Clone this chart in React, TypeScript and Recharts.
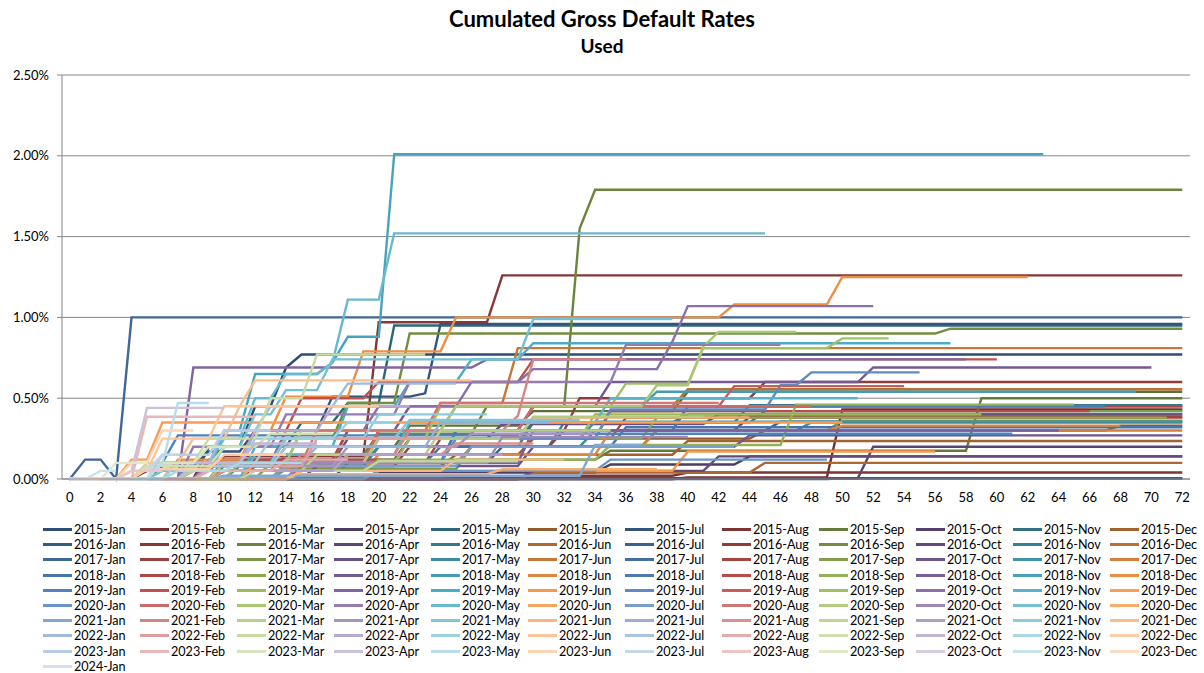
import React from "react";
import { LineChart, Line, XAxis, YAxis, CartesianGrid } from "recharts";

const YEARS = [2015, 2016, 2017, 2018, 2019, 2020, 2021, 2022, 2023, 2024];
const MONTHS = ["Jan", "Feb", "Mar", "Apr", "May", "Jun", "Jul", "Aug", "Sep", "Oct", "Nov", "Dec"];
const vintages = YEARS.flatMap((y) => MONTHS.map((m) => `${y}-${m}`)).slice(0, 109);

// months on book observed for the first vintage at the data cut (2024-Feb)
const DATA_CUT = 109;
const MAX_MOB = 72;

// "month:rate" breakpoints, rate in % (cumulated, holds until the next breakpoint)
const steps = [
  // 2015
  "9:0.2 12:0.45 14:0.69 15:0.77",
  "40:0.01 50:0.43",
  "8:0.08 14:0.2 22:0.33 30:0.42 40:0.54",
  "20:0.04 35:0.09 44:0.14",
  "6:0.1 10:0.2 15:0.35 18:0.47 21:0.95",
  "10:0.05 18:0.15 30:0.25 45:0.3 68:0.33",
  "6:0.08 9:0.17 12:0.3 17:0.51 23:0.53 24:0.96",
  "30:0.02 40:0.04",
  "15:0.05 25:0.12 35:0.175 59:0.5",
  "40:0.005",
  "12:0.1 20:0.25 30:0.35 40:0.4",
  "15:0.08 25:0.15 40:0.235",
  // 2016
  "50:0.005",
  "5:0.05 10:0.14 20:0.97 28:1.26",
  "10:0.05 14:0.15 20:0.28 27:0.45 33:1.55 34:1.79",
  "25:0.005 52:0.2",
  "12:0.1 20:0.2 30:0.35 44:0.456",
  "30:0.04 45:0.1",
  "18:0.1 28:0.2 38:0.3 46:0.355",
  "10:0.1 20:0.3 33:0.5 45:0.6",
  "8:0.1 14:0.25 18:0.47 22:0.9 57:0.93",
  "30:0.05 42:0.14",
  "10:0.08 20:0.2 32:0.35 45:0.42",
  "10:0.1 20:0.3 30:0.45 40:0.555",
  // 2017
  "1:0.12 3:0 4:1.0",
  "12:0.08 22:0.2 32:0.3 44:0.385",
  "14:0.06 26:0.2 38:0.3 50:0.36",
  "9:0.1 18:0.25 28:0.34 42:0.4",
  "11:0.08 20:0.2 34:0.3 48:0.35",
  "10:0.1 18:0.3 24:0.47 29:0.81",
  "15:0.1 25:0.3 40:0.45",
  "13:0.1 24:0.25 36:0.38",
  "12:0.1 22:0.25 35:0.42",
  "16:0.08 30:0.2 44:0.27",
  "10:0.12 22:0.25 34:0.355",
  "14:0.1 26:0.2 38:0.3",
  // 2018
  "12:0.1 24:0.2 36:0.32",
  "9:0.12 18:0.3 30:0.45",
  "13:0.1 25:0.25 38:0.38",
  "8:0.1 14:0.3 22:0.45 35:0.6 52:0.69",
  "8:0.1 15:0.3 25:0.45 38:0.54",
  "10:0.05 20:0.15 35:0.3 50:0.33",
  "12:0.1 25:0.3 40:0.45",
  "12:0.12 22:0.25 35:0.42",
  "10:0.05 20:0.12 35:0.21 47:0.46",
  "15:0.1 30:0.3",
  "8:0.05 10:0.3 12:0.65 17:0.72 18:0.88 21:2.01",
  "7:0.12 12:0.3 14:0.51 19:0.79 25:1.0 43:1.08 50:1.25",
  // 2019
  "6:0.1 7:0.27 30:0.28",
  "8:0.1 12:0.3 15:0.5 20:0.6 30:0.74",
  "11:0.1 22:0.25 34:0.4",
  "8:0.69 27:0.74",
  "12:0.2 18:0.45 22:0.6 26:0.74 30:0.84",
  "20:0.05 40:0.17",
  "15:0.1 25:0.25 35:0.43 46:0.58 48:0.66",
  "10:0.1 20:0.3 30:0.45 43:0.575",
  "8:0.1 14:0.25 24:0.45 36:0.59 41:0.81 50:0.87",
  "8:0.1 14:0.3 20:0.45 26:0.6 30:0.68 39:0.85 40:1.07",
  "12:0.15 22:0.35 35:0.5",
  "4:0.12 6:0.35",
  // 2020
  "20:0.05 35:0.12",
  "10:0.1 20:0.3 30:0.45",
  "10:0.1 15:0.3 25:0.45 38:0.58 41:0.82 42:0.91",
  "8:0.2 14:0.4 22:0.6 36:0.83",
  "6:0.1 10:0.25 12:0.5 14:0.65 17:0.72 18:1.11 21:1.52",
  "12:0.1 20:0.25 30:0.38",
  "14:0.08 26:0.2",
  "10:0.1 16:0.3 24:0.47",
  "10:0.1 20:0.25 30:0.385",
  "15:0.1 28:0.26",
  "6:0.05 10:0.2 12:0.4 14:0.55 17:0.74 30:0.99",
  "15:0.03 28:0.06",
  // 2021
  "10:0.02 34:0.21",
  "8:0.05 15:0.15 22:0.3 29:0.39 30:0.74",
  "8:0.05 16:0.15 24:0.3",
  "9:0.08 18:0.2 26:0.28",
  "7:0.1 14:0.25 22:0.365",
  "15:0.05 25:0.12",
  "8:0.1 16:0.2 24:0.35",
  "10:0.05 18:0.15 25:0.22",
  "12:0.05 20:0.11",
  "9:0.05 18:0.15",
  "6:0.1 12:0.25 20:0.4",
  "5:0.1 8:0.25 11:0.45 12:0.61",
  // 2022
  "6:0.1 10:0.3 13:0.45 18:0.59",
  "8:0.08 16:0.25",
  "5:0.1 9:0.25 13:0.5 16:0.77",
  "6:0.1 12:0.3 17:0.45",
  "7:0.1 13:0.25 18:0.35",
  "4:0.05 6:0.25 10:0.45",
  "8:0.08 14:0.2",
  "9:0.05 14:0.12",
  "5:0.08 10:0.2 13:0.28",
  "6:0.1 12:0.22",
  "7:0.05 11:0.1",
  "5:0.06 10:0.15",
  // 2023
  "6:0.15 10:0.3",
  "5:0.385",
  "6:0.1 9:0.2",
  "4:0.05 5:0.44",
  "6:0.1 7:0.47",
  "4:0.1 6:0.3",
  "4:0.05 6:0.15",
  "4:0.05",
  "3:0.1",
  "",
  "2:0.05",
  "",
  // 2024
  "",
];

const Y_TICKS = [0, 0.5, 1, 1.5, 2, 2.5];
const X_LABELS = Array.from({ length: MAX_MOB / 2 + 1 }, (_, k) => k * 2);
const X_MARKS = Array.from({ length: MAX_MOB + 2 }, (_, k) => k - 0.5);

const ACCENTS = ["#4F81BD", "#C0504D", "#9BBB59", "#8064A2", "#4BACC6", "#F79646"];

// Excel-style shade ramp: dark for the oldest vintages, pale for the newest
function seriesColor(i: number) {
  const hex = ACCENTS[i % ACCENTS.length];
  const rgb = [1, 3, 5].map((p) => parseInt(hex.slice(p, p + 2), 16));
  const levels = Math.ceil(vintages.length / ACCENTS.length);
  const t = Math.floor(i / ACCENTS.length) / (levels - 1);
  const out =
    t <= 0.44
      ? rgb.map((c) => c * (0.6 + (0.4 * t) / 0.44))
      : rgb.map((c) => c + (255 - c) * ((0.75 * (t - 0.44)) / 0.56));
  return "#" + out.map((c) => Math.round(c).toString(16).padStart(2, "0")).join("");
}

const rows: Record<string, number>[] = Array.from({ length: MAX_MOB + 1 }, (_, m) => ({ mob: m }));
vintages.forEach((name, i) => {
  const last = Math.min(MAX_MOB, DATA_CUT - i);
  const pts = steps[i]
    .split(" ")
    .filter(Boolean)
    .map((s) => s.split(":").map(Number));
  let v = 0;
  let k = 0;
  for (let m = 0; m <= last; m++) {
    while (k < pts.length && pts[k][0] <= m) {
      v = pts[k][1];
      k++;
    }
    rows[m][name] = v;
  }
});

const FONT = "Lato, 'Open Sans', sans-serif";
const AXIS_GREY = "#868686";

function VintageLegend() {
  return (
    <div
      style={{
        position: "absolute",
        left: 43,
        top: 522,
        display: "grid",
        gridTemplateColumns: "repeat(12, 97px)",
        gridAutoRows: "15.2px",
        fontFamily: FONT,
        fontSize: 12.6,
        color: "#000",
      }}
    >
      {vintages.map((name, i) => (
        <div key={name} style={{ display: "flex", alignItems: "center", whiteSpace: "nowrap" }}>
          <div style={{ width: 29, height: 3, background: seriesColor(i), marginRight: 2 }} />
          <span>{name}</span>
        </div>
      ))}
    </div>
  );
}

export default function App() {
  return (
    <div style={{ position: "absolute", left: 0, top: 0, width: 1204, height: 673, background: "#fff" }}>
      <div
        style={{
          position: "absolute",
          top: 5,
          width: 1204,
          textAlign: "center",
          fontFamily: FONT,
          fontWeight: 700,
          fontSize: 22,
        }}
      >
        Cumulated Gross Default Rates
      </div>
      <div
        style={{
          position: "absolute",
          top: 34,
          width: 1204,
          textAlign: "center",
          fontFamily: FONT,
          fontWeight: 700,
          fontSize: 19,
        }}
      >
        Used
      </div>
      <LineChart
        width={1204}
        height={515}
        data={rows}
        margin={{ top: 75, right: 14, bottom: 6, left: 2 }}
      >
        <CartesianGrid vertical={false} stroke={AXIS_GREY} strokeWidth={1} />
        <XAxis
          xAxisId="marks"
          type="number"
          dataKey="mob"
          domain={[-0.5, 72.5]}
          allowDataOverflow
          ticks={X_MARKS}
          tick={false}
          tickSize={5}
          tickLine={{ stroke: AXIS_GREY }}
          axisLine={false}
          height={0}
        />
        <XAxis
          type="number"
          dataKey="mob"
          domain={[-0.5, 72.5]}
          allowDataOverflow
          ticks={X_LABELS}
          interval={0}
          tickLine={false}
          axisLine={{ stroke: AXIS_GREY }}
          tick={{ fontFamily: FONT, fontSize: 13, fill: "#000" }}
          tickMargin={8}
          height={30}
        />
        <YAxis
          domain={[0, 2.5]}
          ticks={Y_TICKS}
          interval={0}
          tickFormatter={(v: number) => `${v.toFixed(2)}%`}
          tick={{ fontFamily: FONT, fontSize: 13, fill: "#000" }}
          tickSize={5}
          tickMargin={8}
          tickLine={{ stroke: AXIS_GREY }}
          axisLine={{ stroke: AXIS_GREY }}
          width={60}
        />
        {vintages.map((name, i) => (
          <Line
            key={name}
            type="linear"
            dataKey={name}
            stroke={seriesColor(i)}
            strokeWidth={2.4}
            dot={false}
            activeDot={false}
            isAnimationActive={false}
          />
        ))}
      </LineChart>
      <VintageLegend />
    </div>
  );
}
